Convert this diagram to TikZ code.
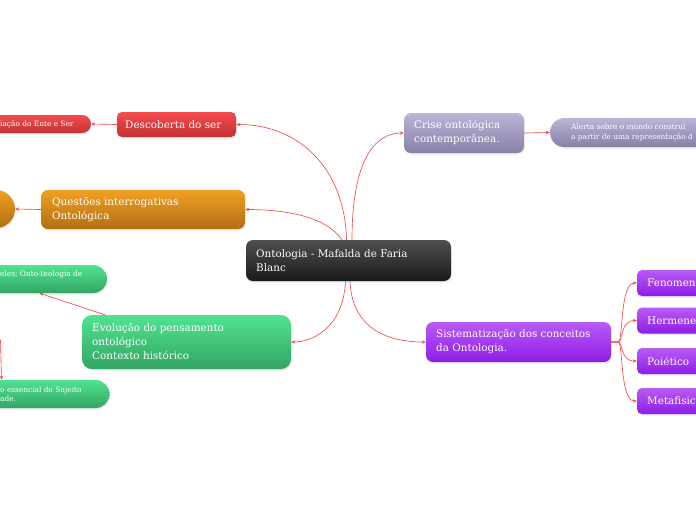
\documentclass[tikz,border=0pt]{standalone}
\usepackage{fontspec}
\setmainfont{DejaVu Serif}
\usetikzlibrary{arrows.meta,shadows}
\definecolor{linec}{HTML}{F5494B}
\definecolor{cenT}{HTML}{4F4F4F}
\definecolor{cenB}{HTML}{1A1A1A}
\definecolor{redT}{HTML}{F54B4D}
\definecolor{redB}{HTML}{C23233}
\definecolor{oraT}{HTML}{F0A024}
\definecolor{oraB}{HTML}{B26E12}
\definecolor{grnT}{HTML}{50E391}
\definecolor{grnB}{HTML}{33A563}
\definecolor{lavT}{HTML}{BBB5D8}
\definecolor{lavB}{HTML}{8880A6}
\definecolor{purT}{HTML}{B85CF6}
\definecolor{purB}{HTML}{8E1CE6}
\begin{document}
\begin{tikzpicture}[x=1pt,y=-1pt,
  box/.style={rectangle, rounded corners=7pt, inner sep=0pt,
    drop shadow={opacity=0.18,shadow xshift=0.5pt,shadow yshift=-1.5pt}},
  lbl/.style={inner sep=0pt, align=left, text=white, anchor=west,
    font=\fontsize{10.4}{13.6}\selectfont},
  slbl/.style={inner sep=0pt, align=left, text=white, anchor=west,
    font=\fontsize{7.4}{9.5}\selectfont},
  conn/.style={draw=linec, line width=0.65pt, -{Stealth[length=4pt,width=3.5pt]}},
]
\useasboundingbox (0,0) rectangle (696,520);
\clip (0,0) rectangle (696,520);

% central
\node[box, minimum width=205pt, minimum height=41pt, top color=cenT, bottom color=cenB] (cen) at (348.5,260.5) {};
\node[lbl] (tcen) at (256,260.5) {Ontologia - Mafalda de Faria\\Blanc};

% Descoberta do ser
\node[box, rounded corners=5pt, minimum width=119pt, minimum height=25pt, top color=redT, bottom color=redB] (desc) at (176.5,124.5) {};
\node[lbl] (tdesc) at (125,124.5) {Descoberta do ser};
\node[box, rounded corners=9pt, minimum width=111pt, minimum height=18pt, top color=redT, bottom color=redB] (rleaf) at (35.5,124) {};
\node[slbl] (trleaf) at (0,124.5) {iação do Ente e Ser};

% Questoes
\node[box, minimum width=204pt, minimum height=39pt, top color=oraT, bottom color=oraB] (ques) at (143,209.5) {};
\node[lbl] (tques) at (52,209.5) {Questões interrogativas\\Ontológica};
\node[box, rounded corners=19pt, minimum width=40pt, minimum height=38pt, top color=oraT, bottom color=oraB] (oleaf) at (-5,209) {};

% Evolucao
\node[box, rounded corners=10pt, minimum width=209pt, minimum height=54pt, top color=grnT, bottom color=grnB] (evo) at (186.5,342) {};
\node[lbl] (tevo) at (92,341.5) {Evolução do pensamento\\ontológico\\Contexto histórico};
\node[box, rounded corners=14pt, minimum width=147pt, minimum height=28pt, top color=grnT, bottom color=grnB] (gl1) at (33.5,279) {};
\node[slbl] (tgl1) at (0,275) {eles; Onto-teologia de};
\node[box, rounded corners=14pt, minimum width=150pt, minimum height=28pt, top color=grnT, bottom color=grnB] (gl2) at (34.5,394) {};
\node[slbl] (tgl2) at (0,394) {o essencial do Sujeito\\ade.};

% Crise
\node[box, minimum width=120pt, minimum height=40pt, top color=lavT, bottom color=lavB] (crise) at (464,133) {};
\node[lbl] (tcrise) at (414,132.5) {Crise ontológica\\contemporânea.};
\node[box, rounded corners=14.5pt, minimum width=180pt, minimum height=29pt, top color=lavT, bottom color=lavB] (alerta) at (640,132.5) {};
\node[slbl] (talerta) at (571,132.5) {Alerta sobre o mundo construí\\a partir de uma representação d};

% Sistematizacao
\node[box, minimum width=185pt, minimum height=40pt, top color=purT, bottom color=purB] (sis) at (518.5,342) {};
\node[lbl] (tsis) at (436,341.5) {Sistematização dos conceitos\\da Ontologia.};
\node[box, rounded corners=5pt, minimum width=93pt, minimum height=26pt, top color=purT, bottom color=purB] (fen) at (683.5,283) {};
\node[lbl] (tfen) at (647,283) {Fenomen};
\node[box, rounded corners=5pt, minimum width=93pt, minimum height=26pt, top color=purT, bottom color=purB] (her) at (683.5,320.5) {};
\node[lbl] (ther) at (647,320.5) {Hermene};
\node[box, rounded corners=5pt, minimum width=93pt, minimum height=26pt, top color=purT, bottom color=purB] (poi) at (683.5,361) {};
\node[lbl] (tpoi) at (647,361) {Poiético};
\node[box, rounded corners=5pt, minimum width=93pt, minimum height=26pt, top color=purT, bottom color=purB] (met) at (683.5,401) {};
\node[lbl] (tmet) at (647,401) {Metafisic};

% connectors from central
\draw[conn] ([xshift=-2pt]cen.north) .. controls +(-1.5,-70) and +(64,0) .. (desc.east);
\draw[conn] ([xshift=-6.5pt]cen.north) .. controls +(-17,-25) and +(35,0) .. (ques.east);
\draw[conn] ([xshift=3.5pt]cen.north) .. controls +(0,-80) and +(-29,0) .. (crise.west);
\draw[conn] ([xshift=-3pt]cen.south) .. controls +(-2.5,49) and +(19,0) .. (evo.east);
\draw[conn] ([xshift=1.5pt]cen.south) .. controls +(2,49) and +(-36,0) .. (sis.west);

% leaves
\draw[conn] (desc.west) -- (rleaf.east);
\draw[conn] (ques.west) -- (oleaf.east);
\draw[conn] (crise.east) -- (alerta.west);
\draw[conn] ([xshift=-81.5pt]evo.north) -- ([xshift=6pt]gl1.south);
\coordinate (cgl2) at (0.5,340);
\draw[conn] (cgl2) -- ([xshift=-33pt]gl2.north);

% sistematizacao children
\draw[conn] (sis.east) -- ++(7,0) .. controls +(5,0) and +(-17,0) .. (fen.west);
\draw[conn] (sis.east) -- ++(7,0) .. controls +(5,0) and +(-17,0) .. (her.west);
\draw[conn] (sis.east) -- ++(7,0) .. controls +(5,0) and +(-17,0) .. (poi.west);
\draw[conn] (sis.east) -- ++(7,0) .. controls +(5,0) and +(-17,0) .. (met.west);
\end{tikzpicture}
\end{document}
